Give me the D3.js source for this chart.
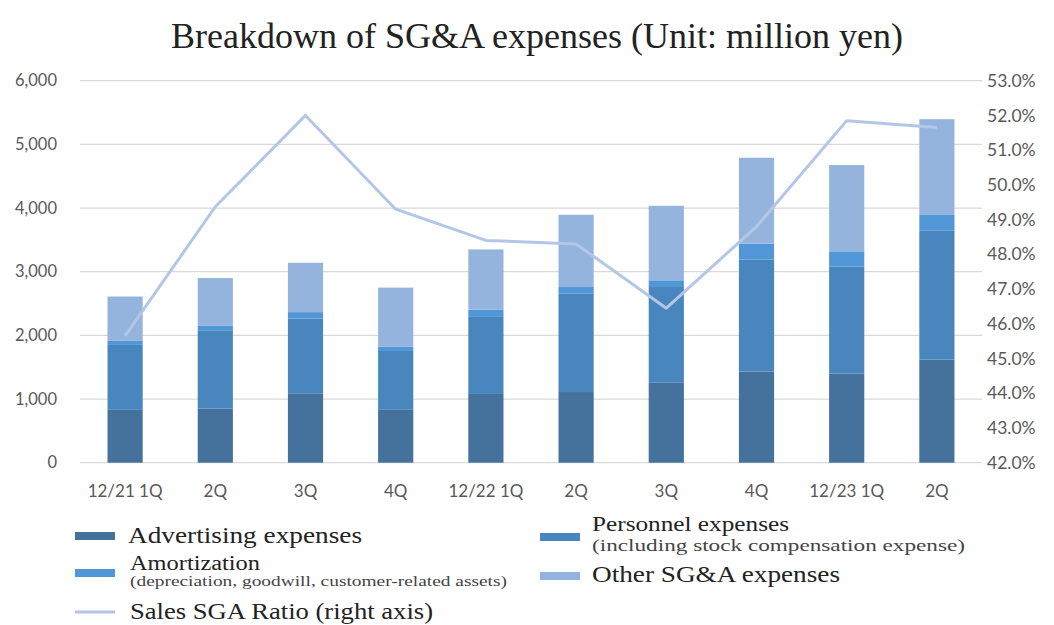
<!DOCTYPE html>
<html><head><meta charset="utf-8">
<script src="https://cdn.jsdelivr.net/npm/d3@7"></script>
<style>body{margin:0;background:#fff;}svg{display:block;}</style>
</head><body>
<svg id="c" width="1054" height="625"></svg>
<script>
const categories = ["12/21 1Q","2Q","3Q","4Q","12/22 1Q","2Q ","3Q ","4Q ","12/23 1Q","2Q  "];
const advertising = [830, 850, 1090, 830, 1080, 1110, 1255, 1430, 1400, 1620];
const personnel   = [1020, 1230, 1175, 925, 1210, 1545, 1505, 1760, 1680, 2030];
const amortization= [70, 70, 100, 65, 115, 105, 105, 250, 240, 250];
const other       = [690, 750, 775, 930, 945, 1135, 1170, 1350, 1355, 1495];
const sgaRatio    = [45.65, 49.37, 52.0, 49.3, 48.4, 48.3, 46.45, 48.8, 51.85, 51.65];
const leftTicks = [0,1000,2000,3000,4000,5000,6000];
const rightTicks = [42,43,44,45,46,47,48,49,50,51,52,53];
const seriesNames = ["Advertising expenses","Personnel expenses","Amortization","Other SG&A expenses"];
const colors = ["#44729d","#4a86be","#5196d6","#95b4dd"];
const lineColor = "#b4c6e7";

const svg = d3.select("#c");
const pTop = 80.7, pBottom = 462.7, pLeft = 80, pRight = 982;
const x = d3.scaleBand().domain(categories).range([pLeft,pRight]).paddingInner(0.61).paddingOuter(0.305);
const y = d3.scaleLinear().domain([0,6000]).range([pBottom, pTop]);
const y2 = d3.scaleLinear().domain([42,53]).range([pBottom, pTop]);

// title
svg.append("text").attr("x",537).attr("y",48).attr("text-anchor","middle")
  .attr("font-family","Liberation Serif, serif").attr("font-size",36).attr("fill","#222")
  .text("Breakdown of SG&A expenses (Unit: million yen)");

// gridlines
svg.append("g").selectAll("line").data(leftTicks).join("line")
  .attr("x1",pLeft).attr("x2",pRight).attr("y1",d=>y(d)).attr("y2",d=>y(d))
  .attr("stroke","#d9d9d9").attr("stroke-width",1.2);

// left axis
const la = svg.append("g").attr("transform",`translate(${pLeft},0)`)
  .call(d3.axisLeft(y).tickValues(leftTicks).tickFormat(d3.format(",")).tickSize(0).tickPadding(23));
la.select(".domain").remove();
la.selectAll("text").attr("font-family","Lato, sans-serif").attr("font-size",16.5).attr("fill","#595959");

// right axis
const ra = svg.append("g").attr("transform",`translate(${pRight},0)`)
  .call(d3.axisRight(y2).tickValues(rightTicks).tickFormat(d=>d.toFixed(1)+"%").tickSize(0).tickPadding(5));
ra.select(".domain").remove();
ra.selectAll("text").attr("font-family","Lato, sans-serif").attr("font-size",17.5).attr("fill","#595959");

// bottom axis
const ba = svg.append("g").attr("transform",`translate(0,${pBottom})`)
  .call(d3.axisBottom(x).tickSize(0).tickPadding(22).tickFormat(d=>d.trim()));
ba.select(".domain").remove();
ba.selectAll("text").attr("font-family","Lato, sans-serif").attr("font-size",17).attr("fill","#595959");

// stacked bars
const rows = categories.map((c,i)=>({cat:c, a:advertising[i], p:personnel[i], m:amortization[i], o:other[i]}));
const stack = d3.stack().keys(["a","p","m","o"])(rows);
svg.append("g").selectAll("g").data(stack).join("g").attr("fill",(d,i)=>colors[i])
  .selectAll("rect").data(d=>d).join("rect")
  .attr("x",d=>x(d.data.cat)).attr("width",x.bandwidth())
  .attr("y",d=>y(d[1])).attr("height",d=>y(d[0])-y(d[1]));

// line
const line = d3.line().x((d,i)=>x(categories[i])+x.bandwidth()/2).y(d=>y2(d));
svg.append("path").datum(sgaRatio).attr("d",line).attr("fill","none")
  .attr("stroke",lineColor).attr("stroke-width",3).attr("stroke-linejoin","round");

// legend
const lg = svg.append("g").attr("font-family","Liberation Serif, serif").attr("fill","#222");
function sw(xx,yy,col){lg.append("rect").attr("x",xx).attr("y",yy-4).attr("width",40).attr("height",8).attr("fill",col);}
function tx(xx,yy,size,w,str,fill){
  lg.append("text").attr("x",xx).attr("y",yy).attr("font-size",size)
    .attr("textLength",w).attr("lengthAdjust","spacingAndGlyphs")
    .attr("fill",fill||"#222").text(str);
}
sw(75,536,colors[0]);
tx(128,543,22.5,234,seriesNames[0]);
sw(75,573,colors[2]);
tx(130,570,20,130,seriesNames[2]);
tx(130,586,14.5,377,"(depreciation, goodwill, customer-related assets)","#444");
lg.append("line").attr("x1",75).attr("x2",115).attr("y1",612).attr("y2",612).attr("stroke",lineColor).attr("stroke-width",3);
tx(130,619,24,303,"Sales SGA Ratio (right axis)");
sw(540,537,colors[1]);
tx(592,531,20.5,197,seriesNames[1]);
tx(592,551,17,373,"(including stock compensation expense)","#444");
sw(540,576,colors[3]);
tx(592,582,24,248,seriesNames[3]);
</script>
</body></html>
